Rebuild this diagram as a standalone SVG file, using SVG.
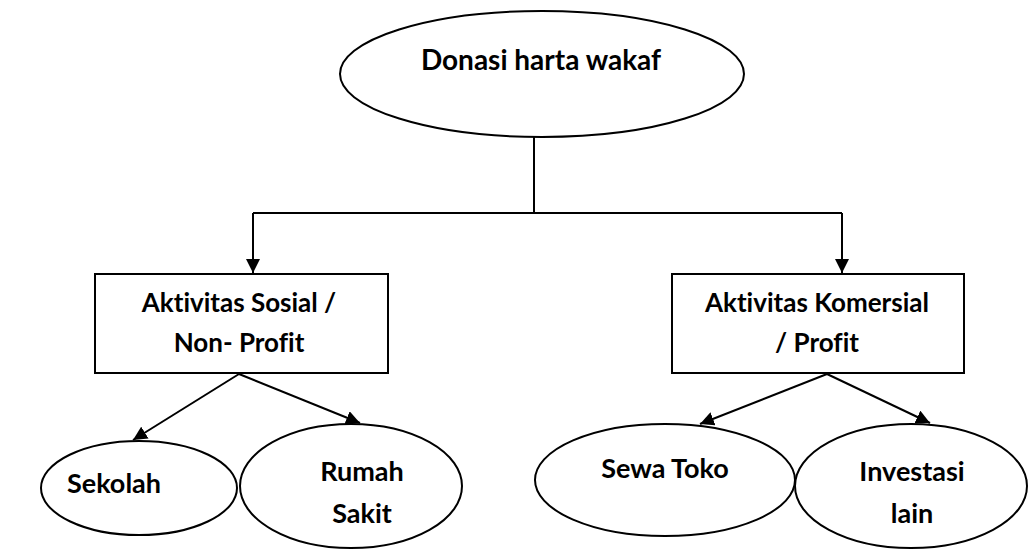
<svg xmlns="http://www.w3.org/2000/svg" width="1028" height="550" viewBox="0 0 1028 550">
<style>
.n{fill:#fff;stroke:#000;stroke-width:2}
.t{font-family:Lato,"Liberation Sans",sans-serif;font-weight:bold;fill:#000;text-anchor:middle;font-variant-ligatures:none}
.c{stroke:#000;stroke-width:2;fill:none}
</style>
<defs>
<marker id="ah" viewBox="0 0 10 10" refX="10" refY="5" markerWidth="7" markerHeight="7" markerUnits="strokeWidth" orient="auto">
<path d="M0,0 L10,5 L0,10 z" fill="#000"/>
</marker>
</defs>
<rect width="1028" height="550" fill="#fff"/>
<g id="connectors">
<path class="c" d="M534,137 V213"/>
<path class="c" d="M253,213 H842"/>
<path class="c" d="M253,213 V273" marker-end="url(#ah)"/>
<path class="c" d="M842,213 V273" marker-end="url(#ah)"/>
<path class="c" d="M239,374 L133,440" marker-end="url(#ah)"/>
<path class="c" d="M239,374 L360,423" marker-end="url(#ah)"/>
<path class="c" d="M827,374 L700,424" marker-end="url(#ah)"/>
<path class="c" d="M827,374 L930,423" marker-end="url(#ah)"/>
</g>
<g id="donasi">
<ellipse class="n" cx="542" cy="74" rx="202" ry="63"/>
<text class="t" x="541" y="70" font-size="28">Donasi harta wakaf</text>
</g>
<g id="sosial">
<rect class="n" x="95" y="274" width="293" height="99"/>
<text class="t" x="239" y="312" font-size="26">Aktivitas Sosial /</text>
<text class="t" x="239" y="352" font-size="26">Non- Profit</text>
</g>
<g id="komersial">
<rect class="n" x="672" y="274" width="292" height="99"/>
<text class="t" x="817" y="312" font-size="26">Aktivitas Komersial</text>
<text class="t" x="817" y="352" font-size="26">/ Profit</text>
</g>
<g id="sekolah">
<ellipse class="n" cx="139" cy="488" rx="98" ry="47"/>
<text class="t" x="114" y="493" font-size="27">Sekolah</text>
</g>
<g id="rumahsakit">
<ellipse class="n" cx="351" cy="486" rx="111" ry="62"/>
<text class="t" x="362" y="481" font-size="27">Rumah</text>
<text class="t" x="362" y="523" font-size="27">Sakit</text>
</g>
<g id="sewatoko">
<ellipse class="n" cx="665" cy="480" rx="130" ry="56"/>
<text class="t" x="665" y="478" font-size="27">Sewa Toko</text>
</g>
<g id="investasi">
<ellipse class="n" cx="911" cy="486" rx="116" ry="62"/>
<text class="t" x="912" y="481" font-size="27">Investasi</text>
<text class="t" x="912" y="523" font-size="27">lain</text>
</g>
</svg>
